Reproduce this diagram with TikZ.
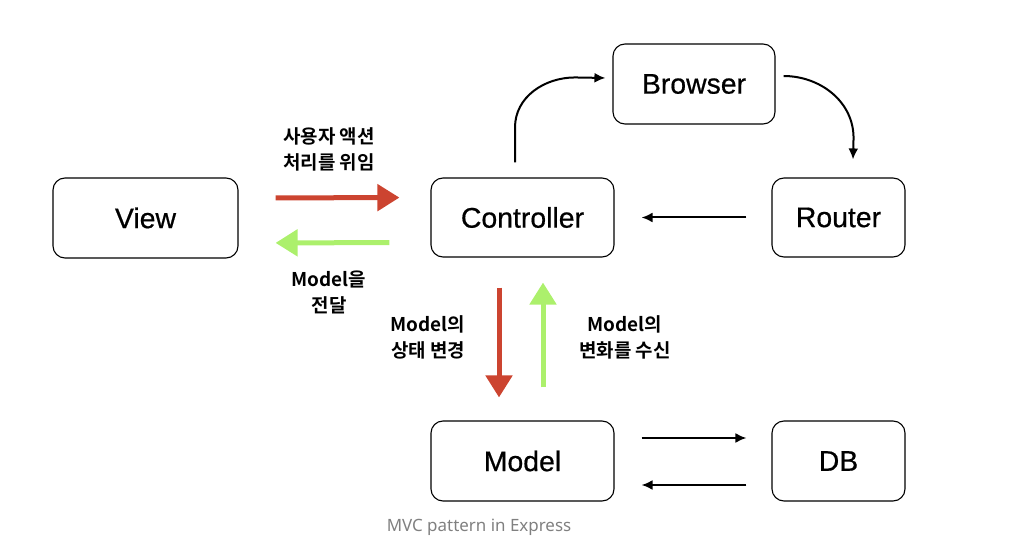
\documentclass[tikz,border=0pt]{standalone}
\usepackage{fontspec}
\setmainfont{Liberation Sans}
\newfontfamily\boxfont{Liberation Sans}[FakeBold=0.6]
\newfontfamily\kr{Noto Sans CJK KR}[BoldFont={Noto Sans CJK KR Bold}]
\newfontfamily\capfont{Noto Sans}
\usetikzlibrary{arrows.meta}
\definecolor{crayred}{RGB}{204,68,48}
\definecolor{craygreen}{RGB}{172,240,108}
\definecolor{capgray}{RGB}{128,128,128}
\begin{document}
\begin{tikzpicture}[x=1bp, y=-1bp,
  box/.style={draw, rounded corners=12bp, line width=1.1bp, font=\boxfont\fontsize{28.5}{32}\selectfont},
  flow/.style={line width=2bp, -{Latex[length=11bp,width=10bp]}},
  hand/.style={line width=5bp, -{Triangle[length=22bp,width=26bp]}},
  lbl/.style={align=center, font=\kr\bfseries\fontsize{19}{26}\selectfont}]
\useasboundingbox (0,0) rectangle (1022,547);
\node[box, minimum width=185bp, minimum height=80bp] (view) at (145.5,218){View};
\node[box, minimum width=183bp, minimum height=79bp] (ctrl) at (522.5,217.5){Controller};
\node[box, minimum width=162bp, minimum height=80bp] (brws) at (694,84){Browser};
\node[box, minimum width=133bp, minimum height=79bp] (rout) at (838.5,217.5){Router};
\node[box, minimum width=183bp, minimum height=80bp] (modl) at (522.5,461){Model};
\node[box, minimum width=133bp, minimum height=80bp] (db) at (838.5,461){DB};
\draw[flow] ([xshift=-7.5bp,yshift=15bp]ctrl.north) -- ++(0,-35) to[out=90, in=180] ++(60,-50) -- ([xshift=-7bp,yshift=6bp]brws.west);
\draw[flow] ([xshift=8bp,yshift=8bp]brws.east) to[out=0, in=90] ++(70,62) -- ([xshift=14.5bp,yshift=18bp]rout.north);
\draw[flow, shorten <=25bp, shorten >=27bp] (rout) -- (ctrl);
\draw[flow, shorten <=27bp, shorten >=25bp] ([yshift=23bp]modl.east) -- ([yshift=23bp]db.west);
\draw[flow, shorten <=25bp, shorten >=27bp] ([yshift=-24bp]db.west) -- ([yshift=-24bp]modl.east);
\draw[hand, crayred, shorten <=37bp, shorten >=31bp] ([yshift=20bp]view.east) -- ([yshift=20bp]ctrl.west);
\draw[hand, craygreen, shorten <=41bp, shorten >=37bp] ([yshift=-25bp]ctrl.west) -- ([yshift=-25bp]view.east);
\draw[hand, crayred, shorten <=30bp, shorten >=23bp] ([xshift=-23.5bp]ctrl.south) -- ([xshift=-23.5bp]modl.north);
\draw[hand, craygreen, shorten <=33bp, shorten >=25bp] ([xshift=20.5bp]modl.north) -- ([xshift=20.5bp]ctrl.south);
\node[lbl] (act) at (329,149){사용자 액션\\처리를 위임};
\node[lbl] (pass) at (329,292){Model을\\전달};
\node[lbl] (chg) at (428,337){Model의\\상태 변경};
\node[lbl] (recv) at (625,337){Model의\\변화를 수신};
\node[text=capgray, font=\capfont\fontsize{17}{20}\selectfont] (cap) at (479,527){MVC pattern in Express};
\end{tikzpicture}
\end{document}
